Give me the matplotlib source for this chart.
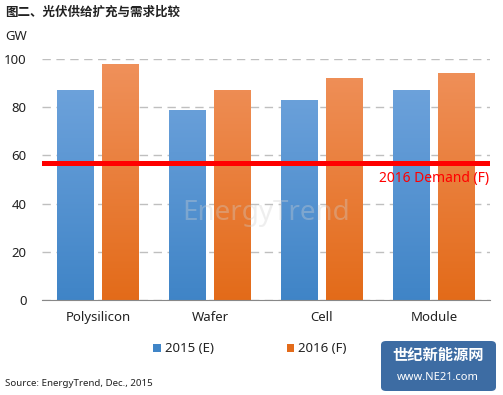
import matplotlib
matplotlib.use("Agg")
import matplotlib.pyplot as plt
import numpy as np
from matplotlib.patches import FancyBboxPatch

categories = ["Polysilicon", "Wafer", "Cell", "Module"]
series_2015 = [87, 79, 83, 87]
series_2016 = [98, 87, 92, 94]
demand_2016 = 57
yticks = [0, 20, 40, 60, 80, 100]
legend_labels = ["2015 (E)", "2016 (F)"]
title = "图二、光伏供给扩充与需求比较"
source = "Source: EnergyTrend, Dec., 2015"

plt.rcParams['font.family'] = ['Noto Sans', 'Noto Sans CJK SC', 'DejaVu Sans']

W, H = 503, 395
fig = plt.figure(figsize=(W/100, H/100), dpi=100)
ax = fig.add_axes([42/W, (H-300)/H, (490-42)/W, (300-59)/H])

x = np.arange(len(categories))
bw = 0.33
gap = 0.08
blue_top, blue_bot = np.array([0.45, 0.65, 0.87]), np.array([0.25, 0.52, 0.78])
org_top, org_bot = np.array([0.94, 0.57, 0.36]), np.array([0.89, 0.42, 0.10])

def grad_bars(xs, vals, ctop, cbot):
    bars = ax.bar(xs, vals, width=bw, color=tuple(cbot), zorder=2, linewidth=0)
    for b in bars:
        x0, w = b.get_x(), b.get_width()
        g = np.linspace(0, 1, 100)[:, None]
        img = cbot[None, None, :] * (1 - g[..., None]) + ctop[None, None, :] * g[..., None]
        img = np.repeat(img, 2, axis=1)
        im = ax.imshow(img, extent=[x0, x0 + w, 0, 100], origin='lower', aspect='auto', zorder=2.1)
        im.set_clip_path(b)
    return bars

b1 = grad_bars(x - bw/2 - gap/2, series_2015, blue_top, blue_bot)
b2 = grad_bars(x + bw/2 + gap/2, series_2016, org_top, org_bot)

ax.set_xlim(-0.5, len(categories) - 0.5)
ax.set_ylim(0, 100)
ax.set_yticks(yticks)
ax.set_xticks(x)
ax.set_xticklabels(categories)
ax.yaxis.grid(True, color='#BFBFBF', linestyle=(0, (6, 4)), linewidth=1, zorder=0)
ax.set_axisbelow(True)
for s in ['top', 'right', 'left']:
    ax.spines[s].set_visible(False)
ax.spines['bottom'].set_color('#888888')
ax.spines['bottom'].set_zorder(3)
ax.tick_params(axis='both', length=0, labelsize=9.5, colors='#222222', pad=8)
ax.tick_params(axis='y', pad=11)

# demand line
ax.axhline(demand_2016, color='#FF0000', linewidth=3.6, zorder=4, xmin=0, xmax=0.995)
ax.text(3.49, demand_2016 - 3.5, "2016 Demand (F)", color='#FF0000', fontsize=10,
        ha='right', va='top', zorder=5)

# watermark
ax.text(1.5, 36, "EnergyTrend", fontsize=20, color='#D0D0D0', alpha=0.35,
        ha='center', va='center', zorder=3, fontweight='bold')

# title, unit, source
fig.text(5/W, 1 - 12/H, title, fontsize=9, fontweight='bold', color='#222222',
         ha='left', va='center', family=['Noto Sans CJK SC', 'DejaVu Sans'])
fig.text(5/W, 1 - 37/H, "GW", fontsize=9.5, color='#222222', ha='left', va='center')
fig.text(5/W, 1 - 383/H, source, fontsize=7, color='#222222', ha='left', va='center')

# legend
leg = fig.legend([b1, b2], legend_labels, loc='center', bbox_to_anchor=(250/W, 1 - 349/H),
                 ncol=2, frameon=False, fontsize=9.5, handlelength=0.6, handleheight=0.6,
                 columnspacing=5.5, handletextpad=0.3)
for t in leg.get_texts():
    t.set_color('#222222')

# logo box
box = FancyBboxPatch((381/W, 1 - 391/H), 115/W, 50/H, boxstyle="round,pad=0,rounding_size=0.01",
                     transform=fig.transFigure, facecolor='#3D6CA3', edgecolor='none')
fig.patches.append(box)
fig.text(438/W, 1 - 355/H, "世纪新能源网", fontsize=11, fontweight='bold', color='white',
         ha='center', va='center', family=['Noto Sans CJK SC', 'DejaVu Sans'])
fig.text(438/W, 1 - 378/H, "www.NE21.com", fontsize=8, color='white', ha='center', va='center')

fig.savefig("out.png", dpi=100)
